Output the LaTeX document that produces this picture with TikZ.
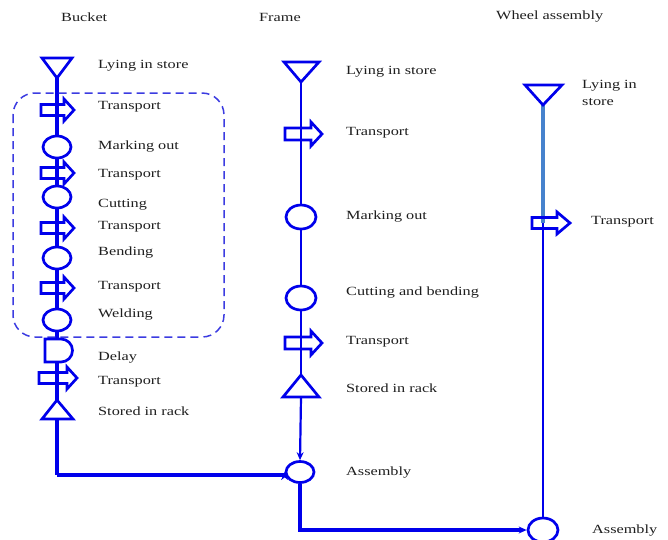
\documentclass[tikz,border=0pt]{standalone}
\usepackage{fontspec}
\setmainfont{Liberation Serif}[FakeStretch=1.3]
\usetikzlibrary{arrows.meta,shapes.geometric,backgrounds}
\definecolor{flowblue}{RGB}{0,0,235}
\definecolor{boxblue}{RGB}{60,60,225}
\definecolor{lightflow}{RGB}{70,130,205}
\definecolor{txt}{RGB}{30,30,30}
\newcommand{\transp}[6]{%
  \draw[sym] ({#1+#3},{#2-#6}) -- ({#1+#4},{#2-#6}) -- ({#1+#4},{#2-2*#6}) -- ({#1+#5},#2)
    -- ({#1+#4},{#2+2*#6}) -- ({#1+#4},{#2+#6}) -- ({#1+#3},{#2+#6}) -- cycle;}
\begin{document}
\begin{tikzpicture}[x=1pt,y=-1pt,
  sym/.style={draw=flowblue,line width=2.7pt,line join=miter},
  proc/.style={ellipse,draw=flowblue,line width=2.7pt,fill=white,inner sep=0pt,minimum width=28pt,minimum height=22pt},
  lab/.style={anchor=west,text=txt,font=\fontsize{12.5}{14}\selectfont,inner sep=0pt},
  hdr/.style={anchor=west,text=txt,font=\fontsize{12.5}{14}\selectfont,inner sep=0pt},
  colb/.style={draw=flowblue,line width=3.8pt},
  colf/.style={draw=flowblue,line width=2.9pt},
  tip/.style={-{Stealth[length=8pt,width=7pt]}}]
\useasboundingbox (0,0) rectangle (668,539);
% headers
\node[hdr] (h1) at (61,17) {Bucket};
\node[hdr] (h2) at (259,17) {Frame};
\node[hdr] (h3) at (496,17) {Wheel assembly};
% dashed box
\draw[boxblue,line width=1.5pt,dash pattern=on 8pt off 5pt,rounded corners=22pt] (13,93) rectangle (224,337);
% ---------- Bucket column ----------
\coordinate (b0) at (57,78);
\coordinate (bend) at (57,475);
\node[proc] (bc1) at (57,147) {};
\node[proc] (bc2) at (57,197) {};
\node[proc] (bc3) at (57,258) {};
\node[proc] (bc4) at (57,320) {};
% ---------- Frame column ----------
\coordinate (f0) at (301,82);
\coordinate (f1) at (301,397);
\node[proc,minimum width=30pt,minimum height=24pt] (fc1) at (301,217) {};
\node[proc,minimum width=30pt,minimum height=24pt] (fc2) at (301,298) {};
\node[proc,minimum width=28pt,minimum height=21pt] (fa) at (300,472) {};
% ---------- Wheel column ----------
\coordinate (w0) at (543,105);
\coordinate (w1) at (543,223);
\node[proc,minimum width=30pt,minimum height=24pt] (wa) at (543,530) {};
% connectors
\begin{scope}[on background layer]
\draw[colb] (b0) -- (bend);
\draw[colf,tip,line width=3.2pt] (bend) -- (bend -| fa.west) -- (fa.west);
\draw[colf] (f0) -- (f1);
\draw[colf,tip,line width=2.2pt] (f1) -- (fa.north);
\draw[colf,tip,line width=3.2pt] (fa.south) |- (wa.west);
\draw[lightflow,line width=3.2pt] (w0) -- (w1);
\draw[colf] (w1) -- (wa.north);
\end{scope}
% bucket symbols
\draw[sym,fill=white] (42,58) -- (72,58) -- (57,78) -- cycle;
\transp{57}{110}{-16}{7}{17}{5.5}
\transp{57}{173}{-16}{7}{17}{5.5}
\transp{57}{228}{-16}{7}{17}{5.5}
\transp{57}{288}{-16}{7}{17}{5.5}
\draw[sym,fill=white] (45,339) -- (61,339) arc[start angle=-90,end angle=90,radius=11.5] -- (45,362) -- cycle;
\transp{57}{378}{-18}{10}{20}{5.5}
\draw[sym,fill=white] (57,400) -- (73,419) -- (42,419) -- cycle;
% frame symbols
\draw[sym,fill=white] (284,62) -- (319,62) -- (301,82) -- cycle;
\transp{301}{134}{-16}{10}{21}{6}
\transp{301}{343}{-16}{10}{21}{6}
\draw[sym,fill=white] (301,375) -- (319,397) -- (283,397) -- cycle;
% wheel symbols
\draw[sym,fill=white] (525,85) -- (562,85) -- (543,105) -- cycle;
\transp{543}{223}{-11}{14}{27}{5.5}
% labels bucket
\node[lab] (lb1) at (98,66) {Lying in store};
\node[lab] (lb2) at (98,107) {Transport};
\node[lab] (lb3) at (98,147) {Marking out};
\node[lab] (lb4) at (98,175) {Transport};
\node[lab] (lb5) at (98,205) {Cutting};
\node[lab] (lb6) at (98,227) {Transport};
\node[lab] (lb7) at (98,253) {Bending};
\node[lab] (lb8) at (98,287) {Transport};
\node[lab] (lb9) at (98,315) {Welding};
\node[lab] (lb10) at (98,358) {Delay};
\node[lab] (lb11) at (98,382) {Transport};
\node[lab] (lb12) at (98,411) {Stored in rack};
% labels frame
\node[lab] (lf1) at (346,72) {Lying in store};
\node[lab] (lf2) at (346,133) {Transport};
\node[lab] (lf3) at (346,217) {Marking out};
\node[lab] (lf4) at (346,293) {Cutting and bending};
\node[lab] (lf5) at (346,342) {Transport};
\node[lab] (lf6) at (346,388) {Stored in rack};
\node[lab] (lf7) at (346,472) {Assembly};
% labels wheel
\node[lab] (lw1) at (582,86) {Lying in};
\node[lab] (lw2) at (582,102) {store};
\node[lab] (lw3) at (591,222) {Transport};
\node[lab] (lw4) at (592,530) {Assembly};
\end{tikzpicture}
\end{document}
